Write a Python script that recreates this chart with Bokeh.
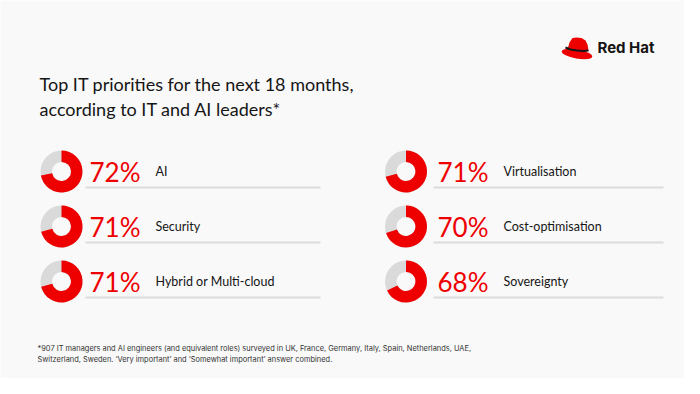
import math
from bokeh.plotting import figure
from bokeh.models import ColumnDataSource, Range1d
from bokeh.core.properties import value
from bokeh.embed import file_html
from bokeh.resources import INLINE

# ---- data ----
left_labels = ["AI", "Security", "Hybrid or Multi-cloud"]
left_values = [72, 71, 71]
right_labels = ["Virtualisation", "Cost-optimisation", "Sovereignty"]
right_values = [71, 70, 68]

title_lines = ["Top IT priorities for the next 18 months,",
               "according to IT and AI leaders*"]
footnote_lines = [
    "*907 IT managers and AI engineers (and equivalent roles) surveyed in UK, France, Germany, Italy, Spain, Netherlands, UAE,",
    "Switzerland, Sweden. \u2018Very important\u2019 and \u2018Somewhat important\u2019 answer combined.",
]

RED = "#ee0000"
GREY = "#dadada"
BG = "#f9f9f9"
FONT = "Lato"
SMALL_FONT = "Inter"

W, H = 684, 378


def Y(py):
    return H - py


p = figure(width=W, height=H, output_backend="svg", toolbar_location=None,
           x_range=Range1d(0, W), y_range=Range1d(0, H),
           min_border=0)
p.axis.visible = False
p.grid.visible = False
p.outline_line_color = None
p.background_fill_color = BG
p.border_fill_color = BG

# rows layout
row_py = [171, 226, 281]
cols = [
    dict(labels=left_labels, values=left_values, cx=61, px=89, lx=155, l0=85, l1=320),
    dict(labels=right_labels, values=right_values, cx=405.5, px=437, lx=503, l0=433, l1=663),
]

for c in cols:
    n = len(c["values"])
    ys = [Y(v) for v in row_py[:n]]
    src = ColumnDataSource(dict(
        x=[c["cx"]] * n,
        y=ys,
        start=[math.pi / 2 - 2 * math.pi * v / 100 for v in c["values"]],
        end=[math.pi / 2] * n,
        pct=[f"{v}%" for v in c["values"]],
        label=c["labels"],
        px=[c["px"]] * n,
        lx=[c["lx"]] * n,
        l0=[c["l0"]] * n,
        l1=[c["l1"]] * n,
        ly=[Y(v + 16) for v in row_py[:n]],
    ))
    p.annulus(x="x", y="y", inner_radius=9.5, outer_radius=21,
              inner_radius_units="screen", outer_radius_units="screen",
              fill_color=GREY, line_color=None, source=src)
    p.annular_wedge(x="x", y="y", inner_radius=9.5, outer_radius=21,
                    inner_radius_units="screen", outer_radius_units="screen",
                    start_angle="start", end_angle="end",
                    fill_color=RED, line_color=None, source=src)
    p.segment(x0="l0", y0="ly", x1="l1", y1="ly", line_color="#dcdcdc",
              line_width=2, source=src)
    p.text(x="px", y="y", text="pct", text_font=value(FONT),
           text_font_size="26px", text_color=RED, text_baseline="middle",
           text_align="left", source=src)
    p.text(x="lx", y="y", text="label", text_font=value(FONT),
           text_font_size="12.5px", text_color="#151515", text_baseline="middle",
           text_align="left", source=src)

# title
p.text(x=[39, 39], y=[Y(83), Y(108)], text=title_lines, text_font=value(FONT),
       text_font_size="18px", text_color="#151515", text_baseline="middle",
       text_align="left")

# footnote
p.text(x=[37, 37], y=[Y(348), Y(359)], text=footnote_lines, text_font=value(SMALL_FONT),
       text_font_size="7.45px", text_color="#333333", text_baseline="middle",
       text_align="left")

# Red Hat logo (decorative)
p.ellipse(x=[576.5], y=[Y(53.5)], width=31, height=9, angle=-0.18,
          fill_color=RED, line_color=None)
p.patch(x=[567, 569, 572, 576, 581, 585, 587, 588, 585, 572],
        y=[Y(v) for v in [49, 42, 37.5, 37, 37.5, 40, 44, 50, 51, 50]],
        fill_color=RED, line_color=None)
p.line(x=[565, 570, 577, 583, 588], y=[Y(v) for v in [47, 49, 50, 50.5, 50]],
       line_color="#151515", line_width=2)
p.text(x=[597], y=[Y(47)], text=["Red Hat"], text_font=value(SMALL_FONT),
       text_font_size="15px", text_font_style="bold", text_color="#151515",
       text_baseline="middle", text_align="left")

open("out.html", "w").write(file_html(p, INLINE))
